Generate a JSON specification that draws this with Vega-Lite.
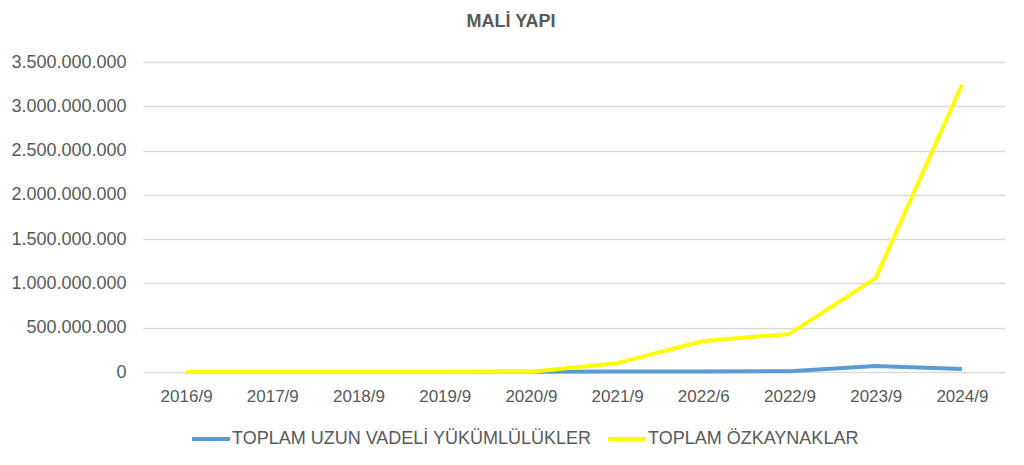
{
  "$schema": "https://vega.github.io/schema/vega-lite/v6.json",
  "autosize": "none",
  "width": 862,
  "height": 310,
  "padding": {"left": 143, "top": 62, "right": 19, "bottom": 93},
  "background": "white",
  "title": {
    "text": "MALİ YAPI",
    "font": "Liberation Sans",
    "fontSize": 18,
    "fontWeight": "bold",
    "color": "#595959",
    "offset": 22,
    "anchor": "middle",
    "dx": -63
  },
  "data": {
    "values": [
      {"donem": "2016/9", "kalem": "TOPLAM UZUN VADELİ YÜKÜMLÜLÜKLER", "deger": 0},
      {"donem": "2017/9", "kalem": "TOPLAM UZUN VADELİ YÜKÜMLÜLÜKLER", "deger": 0},
      {"donem": "2018/9", "kalem": "TOPLAM UZUN VADELİ YÜKÜMLÜLÜKLER", "deger": 0},
      {"donem": "2019/9", "kalem": "TOPLAM UZUN VADELİ YÜKÜMLÜLÜKLER", "deger": 0},
      {"donem": "2020/9", "kalem": "TOPLAM UZUN VADELİ YÜKÜMLÜLÜKLER", "deger": 2000000},
      {"donem": "2021/9", "kalem": "TOPLAM UZUN VADELİ YÜKÜMLÜLÜKLER", "deger": 6000000},
      {"donem": "2022/6", "kalem": "TOPLAM UZUN VADELİ YÜKÜMLÜLÜKLER", "deger": 6000000},
      {"donem": "2022/9", "kalem": "TOPLAM UZUN VADELİ YÜKÜMLÜLÜKLER", "deger": 8000000},
      {"donem": "2023/9", "kalem": "TOPLAM UZUN VADELİ YÜKÜMLÜLÜKLER", "deger": 68000000},
      {"donem": "2024/9", "kalem": "TOPLAM UZUN VADELİ YÜKÜMLÜLÜKLER", "deger": 35000000},
      {"donem": "2016/9", "kalem": "TOPLAM ÖZKAYNAKLAR", "deger": 0},
      {"donem": "2017/9", "kalem": "TOPLAM ÖZKAYNAKLAR", "deger": 0},
      {"donem": "2018/9", "kalem": "TOPLAM ÖZKAYNAKLAR", "deger": 0},
      {"donem": "2019/9", "kalem": "TOPLAM ÖZKAYNAKLAR", "deger": 0},
      {"donem": "2020/9", "kalem": "TOPLAM ÖZKAYNAKLAR", "deger": 3000000},
      {"donem": "2021/9", "kalem": "TOPLAM ÖZKAYNAKLAR", "deger": 100000000},
      {"donem": "2022/6", "kalem": "TOPLAM ÖZKAYNAKLAR", "deger": 350000000},
      {"donem": "2022/9", "kalem": "TOPLAM ÖZKAYNAKLAR", "deger": 430000000},
      {"donem": "2023/9", "kalem": "TOPLAM ÖZKAYNAKLAR", "deger": 1060000000},
      {"donem": "2024/9", "kalem": "TOPLAM ÖZKAYNAKLAR", "deger": 3240000000}
    ]
  },
  "mark": {"type": "line", "strokeWidth": 4, "strokeJoin": "round", "strokeCap": "butt"},
  "encoding": {
    "x": {
      "field": "donem",
      "type": "ordinal",
      "sort": null,
      "scale": {"type": "point", "padding": 0.5},
      "axis": {
        "title": null,
        "labelAngle": 0,
        "labelFont": "Liberation Sans",
        "labelFontSize": 17,
        "labelColor": "#595959",
        "labelPadding": 16,
        "ticks": false,
        "domain": false,
        "grid": false
      }
    },
    "y": {
      "field": "deger",
      "type": "quantitative",
      "scale": {"domain": [0, 3500000000], "nice": false},
      "axis": {
        "title": null,
        "values": [0, 500000000, 1000000000, 1500000000, 2000000000, 2500000000, 3000000000, 3500000000],
        "labelExpr": "replace(format(datum.value, ','), /,/g, '.')",
        "labelFont": "Liberation Sans",
        "labelFontSize": 18,
        "labelColor": "#595959",
        "labelPadding": 17,
        "ticks": false,
        "domain": false,
        "grid": true,
        "gridColor": "#d9d9d9",
        "gridWidth": 1.3
      }
    },
    "color": {
      "field": "kalem",
      "type": "nominal",
      "sort": ["TOPLAM UZUN VADELİ YÜKÜMLÜLÜKLER", "TOPLAM ÖZKAYNAKLAR"],
      "scale": {
        "domain": ["TOPLAM UZUN VADELİ YÜKÜMLÜLÜKLER", "TOPLAM ÖZKAYNAKLAR"],
        "range": ["#5b9bd5", "#ffff00"]
      },
      "legend": {
        "title": null,
        "orient": "none",
        "legendX": 47,
        "legendY": 356,
        "direction": "horizontal",
        "symbolType": "stroke",
        "symbolStrokeWidth": 4,
        "symbolSize": 1444,
        "labelOffset": 0,
        "labelFont": "Liberation Sans",
        "labelFontSize": 18,
        "labelColor": "#595959",
        "labelLimit": 500,
        "columnPadding": 8
      }
    }
  },
  "config": {"view": {"stroke": null}}
}
